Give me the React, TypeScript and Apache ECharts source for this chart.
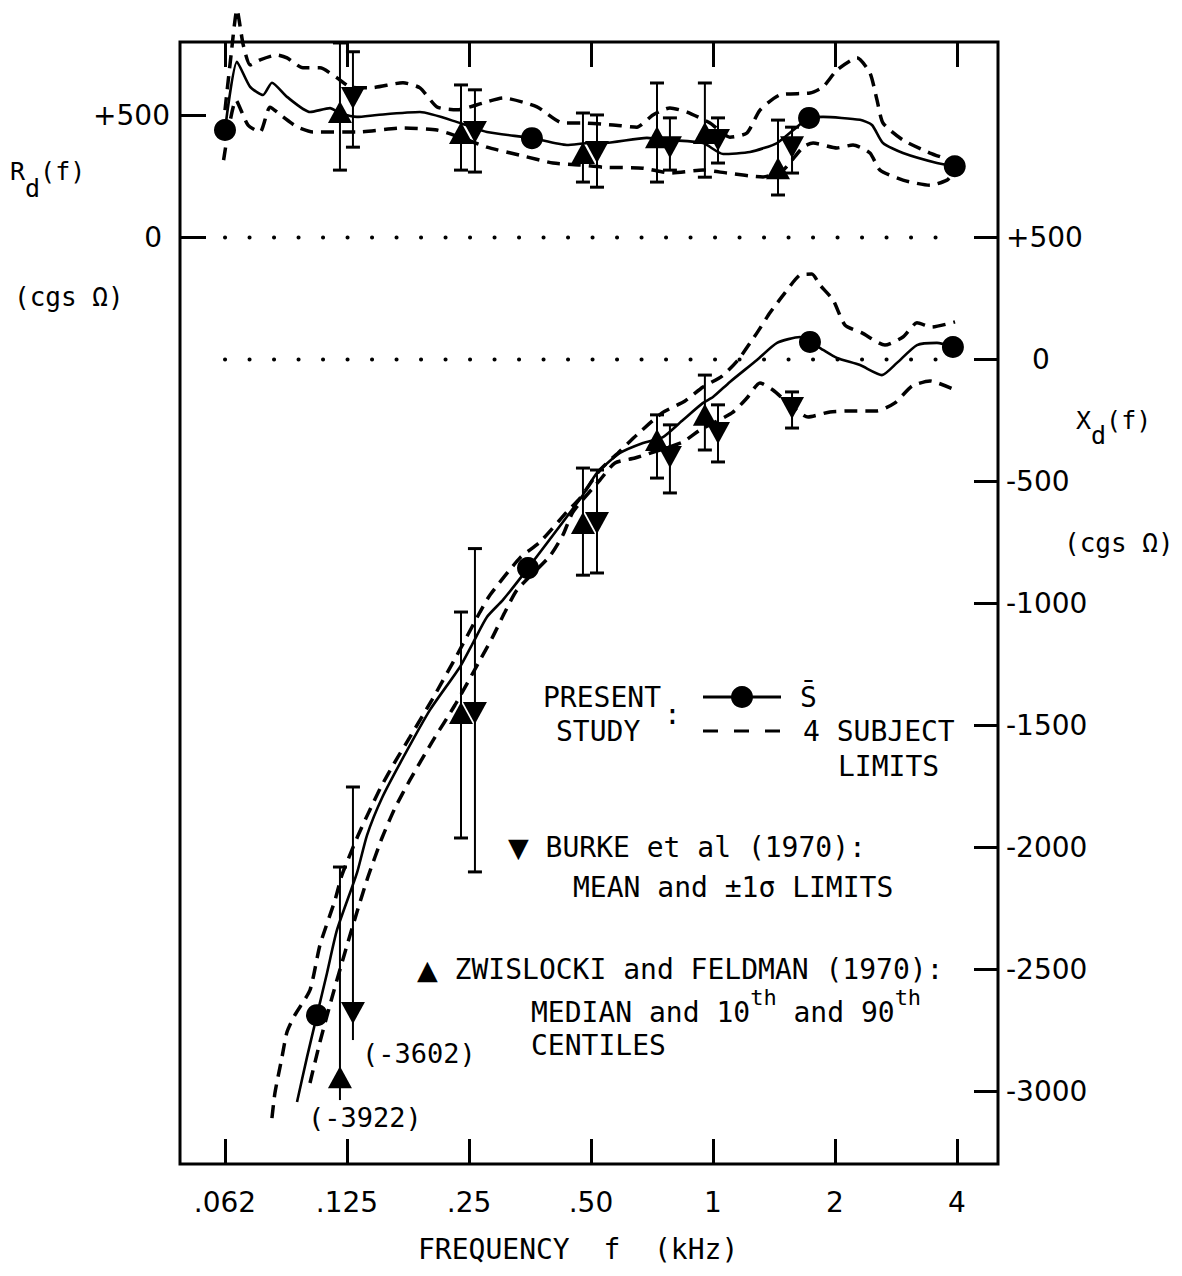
import React, { useEffect, useRef } from "react";
import * as echarts from "echarts";

// ---------- axis ticks ----------
const xTickValues = [0.0625, 0.125, 0.25, 0.5, 1, 2, 4];
const xTickLabels = [".062", ".125", ".25", ".50", "1", "2", "4"];
const xdTickValues = [500, 0, -500, -1000, -1500, -2000, -2500, -3000];
const rdTickValues = [500, 0];

// ---------- present study: Rd(f) (cgs ohm), [f kHz, value] ----------
const rdMean = [
  [0.0625, 440], [0.0669, 720], [0.0721, 617], [0.0776, 584], [0.0816, 634], [0.0889, 576],
  [0.1013, 514], [0.1135, 530], [0.1201, 510], [0.1323, 494], [0.1482, 502], [0.1892, 514],
  [0.2375, 469], [0.2769, 432], [0.3575, 407], [0.436, 379], [0.497, 387], [0.535, 387],
  [0.687, 408], [0.783, 399], [0.945, 387], [1.059, 342], [1.234, 350], [1.439, 387],
  [1.612, 453], [1.726, 490], [1.869, 494], [2.306, 482], [2.468, 461], [2.627, 387],
  [2.943, 346], [3.57, 305], [3.95, 292],
];
const rdUpper = [
  [0.0625, 522], [0.0647, 748], [0.0669, 933], [0.0693, 790], [0.0721, 707], [0.0763, 728],
  [0.084, 748], [0.0889, 736], [0.0973, 695], [0.1072, 695], [0.1181, 654], [0.1272, 617],
  [0.1425, 613], [0.1718, 634], [0.1892, 613], [0.2085, 535], [0.2336, 523], [0.2707, 551],
  [0.3033, 572], [0.3679, 535], [0.4264, 469], [0.4777, 469], [0.5664, 461], [0.649, 452],
  [0.711, 502], [0.783, 531], [0.863, 514], [0.983, 469], [1.101, 411], [1.213, 428],
  [1.306, 522], [1.463, 584], [1.735, 592], [1.869, 617], [2.023, 686], [2.266, 736],
  [2.44, 674], [2.539, 564], [2.627, 469], [2.943, 399], [3.432, 346], [3.845, 317],
];
const rdLower = [
  [0.062, 317], [0.0665, 563], [0.0712, 461], [0.0763, 432], [0.0807, 534], [0.0869, 494],
  [0.0941, 453], [0.103, 432], [0.1323, 432], [0.1718, 449], [0.2085, 440], [0.2375, 411],
  [0.2769, 370], [0.334, 337], [0.403, 305], [0.47, 297], [0.535, 288], [0.672, 284],
  [0.783, 264], [0.945, 276], [1.083, 264], [1.329, 248], [1.489, 276], [1.668, 370],
  [1.766, 387], [2.023, 367], [2.216, 379], [2.44, 346], [2.583, 276], [2.943, 235],
  [3.432, 214], [3.779, 235], [3.909, 264],
];
const rdMeanDots = [[0.0625, 440], [0.3575, 407], [1.726, 490], [3.95, 292]];

// ---------- present study: Xd(f) (cgs ohm) ----------
const xdMean = [
  [0.0941, -3043], [0.0996, -2859], [0.1054, -2687], [0.1116, -2514], [0.1181, -2338],
  [0.1323, -2104], [0.1401, -1949], [0.1525, -1797], [0.1718, -1633],
  [0.2003, -1436], [0.2375, -1260], [0.2558, -1161], [0.2769, -1055], [0.3033, -985],
  [0.3496, -855], [0.4777, -555], [0.5173, -465], [0.5896, -383], [0.672, -342],
  [0.7527, -318], [0.843, -248], [0.945, -178], [1.0, -154], [1.101, -92], [1.284, -2],
  [1.439, 68], [1.639, 92], [1.735, 72], [1.869, 39], [2.023, 6], [2.306, -23],
  [2.612, -64], [2.844, -14], [3.187, 59], [3.57, 68], [3.909, 51],
];
const xdUpper = [
  [0.0816, -3109], [0.083, -3006], [0.0864, -2859], [0.0889, -2756], [0.093, -2686],
  [0.1013, -2584], [0.1072, -2400], [0.1168, -2215], [0.1215, -2112], [0.1323, -1961],
  [0.1416, -1854], [0.1516, -1752], [0.1642, -1649], [0.1788, -1547], [0.2026, -1395],
  [0.2336, -1211], [0.2661, -1035], [0.2817, -965], [0.334, -813], [0.3742, -748],
  [0.436, -625], [0.47, -568], [0.526, -453], [0.583, -383], [0.649, -309], [0.749, -219],
  [0.853, -170], [0.945, -113], [1.053, -68], [1.153, -2], [1.284, 109], [1.382, 191],
  [1.505, 273], [1.639, 346], [1.754, 350], [1.836, 305], [1.978, 244], [2.117, 141],
  [2.331, 109], [2.657, 59], [2.943, 92], [3.187, 150], [3.471, 133], [3.956, 154],
];
const xdLower = [
  [0.1013, -2965], [0.1072, -2797], [0.1154, -2601], [0.1236, -2429], [0.1323, -2264],
  [0.1408, -2121], [0.1525, -1961], [0.1642, -1838], [0.1788, -1723],
  [0.2026, -1568], [0.2309, -1416], [0.2646, -1240], [0.285, -1142], [0.3067, -1035],
  [0.3283, -945], [0.396, -805], [0.4264, -719], [0.4513, -625], [0.526, -494],
  [0.573, -424], [0.642, -404], [0.74, -371], [0.843, -338], [0.929, -289], [1.114, -219],
  [1.213, -158], [1.306, -96], [1.406, -125], [1.549, -186], [1.716, -236], [1.944, -215],
  [2.216, -211], [2.539, -211], [2.812, -178], [3.098, -109], [3.432, -88], [3.956, -125],
];
const xdMeanDots = [[0.1054, -2687], [0.3496, -855], [1.735, 72], [3.909, 51]];

// ---------- Burke et al (1970): [f, mean, -1 sigma, +1 sigma, lower cap (1/0)] ----------
const burkeRd = [
  [0.1293, 572, 370, 761, 1], [0.2586, 432, 268, 605, 1], [0.5173, 350, 206, 502, 1],
  [0.783, 370, 276, 490, 1], [1.029, 399, 305, 490, 1], [1.567, 370, 264, 452, 1],
];
const burkeXd = [
  [0.1293, -2678, -2789, -1752, 0], [0.2586, -1449, -2100, -775, 1], [0.5173, -670, -875, -453, 1],
  [0.783, -400, -547, -268, 1], [1.029, -301, -420, -186, 1], [1.567, -199, -281, -133, 1],
];
// ---------- Zwislocki and Feldman (1970): [f, median, 10th, 90th, lower cap] ----------
const zwRd = [
  [0.1201, 514, 276, 797, 1], [0.2389, 428, 276, 625, 1], [0.4777, 346, 227, 510, 1],
  [0.7275, 411, 227, 633, 1], [0.955, 428, 247, 633, 1], [1.447, 284, 174, 481, 1],
];
const zwXd = [
  [0.1201, -2941, -3035, -2080, 0], [0.2389, -1449, -1961, -1035, 1], [0.4777, -670, -884, -445, 1],
  [0.7275, -330, -486, -227, 1], [0.955, -227, -371, -64, 1],
];
// off-scale points: [f, drawn at, actual value]
const offScale = [[0.1201, -2941, -3922], [0.1293, -2678, -3602]];
const offScaleLabelOffsets = [[25, 40], [66, 41]];

// reference (zero) lines
const zeroLineSpan = [0.0625, 3.956];

const MONO = "'DejaVu Sans Mono', monospace";
const DIGIT = "'DejaVu Sans', sans-serif";

function fmtX(v: number) {
  let best = 0;
  let bd = Infinity;
  xTickValues.forEach((t, i) => {
    const d = Math.abs(Math.log2(v) - Math.log2(t));
    if (d < bd) { bd = d; best = i; }
  });
  return bd < 0.05 ? xTickLabels[best] : "";
}

function curve(data: number[][], yIdx: number, dashed: boolean, extra: any = {}) {
  return {
    type: "line", data, xAxisIndex: 0, yAxisIndex: yIdx, symbol: "none", showSymbol: false,
    smooth: 0.2, silent: true, z: 3,
    lineStyle: dashed
      ? { color: "#000", width: 3.5, type: [13, 8] }
      : { color: "#000", width: 2.6, type: "solid" },
    ...extra,
  };
}

function errBars(data: number[][], yIdx: number) {
  return {
    type: "custom", xAxisIndex: 0, yAxisIndex: yIdx, silent: true, z: 2,
    data: data.map((d) => [d[0], d[2], d[3], d[4]]),
    encode: { x: 0, y: [1, 2] },
    renderItem: (params: any, api: any) => {
      const f = api.value(0);
      const top = api.coord([f, api.value(2)]);
      const bot = api.coord([f, api.value(1)]);
      const w = 7;
      const children: any[] = [
        { type: "line", shape: { x1: top[0], y1: top[1], x2: bot[0], y2: bot[1] }, style: { stroke: "#000", lineWidth: 2 } },
        { type: "line", shape: { x1: top[0] - w, y1: top[1], x2: top[0] + w, y2: top[1] }, style: { stroke: "#000", lineWidth: 3 } },
      ];
      if (api.value(3)) {
        children.push({ type: "line", shape: { x1: bot[0] - w, y1: bot[1], x2: bot[0] + w, y2: bot[1] }, style: { stroke: "#000", lineWidth: 3 } });
      }
      return { type: "group", children };
    },
  };
}

function markers(data: number[][], yIdx: number, kind: "circle" | "up" | "down") {
  return {
    type: "scatter", xAxisIndex: 0, yAxisIndex: yIdx, silent: true, z: 5,
    data: data.map((d) => [d[0], d[1]]),
    symbol: kind === "circle" ? "circle" : "triangle",
    symbolRotate: kind === "down" ? 180 : 0,
    symbolSize: kind === "circle" ? 22 : [24, 22],
    itemStyle: { color: "#000", opacity: 1 },
    emphasis: { disabled: true },
  };
}

function txt(text: string, x: number, y: number, size = 28, extra: any = {}) {
  return {
    type: "text", x, y, silent: true,
    style: { text, fill: "#000", fontFamily: MONO, fontSize: size, align: "left", verticalAlign: "middle", ...extra },
  };
}

function keyed(symbol: string, text: string, x: number, y: number) {
  return {
    type: "text", x, y, silent: true,
    style: {
      text: "{t|" + symbol + "}{a|" + text + "}", align: "left", verticalAlign: "middle",
      rich: {
        t: { fontFamily: DIGIT, fontSize: 27, color: "#000" },
        a: { fontFamily: MONO, fontSize: 28, color: "#000" },
      },
    },
  };
}

export default function App() {
  const ref = useRef<HTMLDivElement>(null);
  useEffect(() => {
    if (!ref.current) return;
    const chart = echarts.init(ref.current, undefined, { renderer: "svg" });
    const xMin = 0.0484, xMax = 5.05;
    const xdMin = -3297, xdMax = 1301;
    const rdMin = xdMin - 500, rdMax = xdMax - 500;
    const tickStyle = { color: "#000", width: 3 };
    const option: any = {
      animation: false,
      backgroundColor: "#fff",
      grid: { left: 180, top: 42, width: 818, height: 1122, show: true, borderColor: "#000", borderWidth: 3, backgroundColor: "transparent" },
      xAxis: [
        {
          type: "log", logBase: 2, min: xMin, max: xMax, position: "bottom",
          axisLine: { show: false, onZero: false },
          axisTick: { show: true, inside: true, length: 25, lineStyle: tickStyle, customValues: xTickValues },
          axisLabel: { customValues: xTickValues, formatter: (v: number) => fmtX(v), color: "#000", fontFamily: DIGIT, fontSize: 28, margin: 24 },
          splitLine: { show: false }, minorTick: { show: false },
        },
        {
          type: "log", logBase: 2, min: xMin, max: xMax, position: "top",
          axisLine: { show: false, onZero: false },
          axisTick: { show: true, inside: true, length: 25, lineStyle: tickStyle, customValues: xTickValues },
          axisLabel: { show: false },
          splitLine: { show: false },
        },
      ],
      yAxis: [
        {
          type: "value", min: rdMin, max: rdMax, position: "left",
          axisLine: { show: false, onZero: false },
          axisTick: { show: true, inside: true, length: 26, lineStyle: tickStyle, customValues: rdTickValues },
          axisLabel: {
            customValues: rdTickValues, color: "#000", fontFamily: DIGIT, fontSize: 28, margin: 10,
            formatter: (v: number) => (v > 0 ? "+" + v : v === 0 ? "{z|0}" : String(v)),
            rich: { z: { fontFamily: DIGIT, fontSize: 28, padding: [0, 8, 0, 0] } },
          },
          splitLine: { show: false },
        },
        {
          type: "value", min: xdMin, max: xdMax, position: "right",
          axisLine: { show: false, onZero: false },
          axisTick: { show: true, inside: true, length: 24, lineStyle: tickStyle, customValues: xdTickValues },
          axisLabel: {
            customValues: xdTickValues, color: "#000", fontFamily: DIGIT, fontSize: 28, margin: 8,
            formatter: (v: number) => (v > 0 ? "+" + v : v === 0 ? "{z|0}" : "-" + Math.abs(v)),
            rich: { z: { fontFamily: DIGIT, fontSize: 28, padding: [0, 0, 0, 26] } },
          },
          splitLine: { show: false },
        },
      ],
      series: [
        // dotted zero lines
        {
          type: "line", xAxisIndex: 0, yAxisIndex: 0, symbol: "none", silent: true, z: 1,
          data: [[zeroLineSpan[0], 0], [zeroLineSpan[1], 0]],
          lineStyle: { color: "#000", width: 4, type: [0.1, 24.4], cap: "round" },
        },
        {
          type: "line", xAxisIndex: 0, yAxisIndex: 1, symbol: "none", silent: true, z: 1,
          data: [[zeroLineSpan[0], 0], [zeroLineSpan[1], 0]],
          lineStyle: { color: "#000", width: 4, type: [0.1, 24.4], cap: "round" },
        },
        curve(rdMean, 0, false),
        curve(rdUpper, 0, true, { clip: false }),
        curve(rdLower, 0, true),
        curve(xdMean, 1, false),
        curve(xdUpper, 1, true),
        curve(xdLower, 1, true),
        errBars(burkeRd, 0),
        errBars(zwRd, 0),
        errBars(burkeXd, 1),
        errBars(zwXd, 1),
        markers(rdMeanDots, 0, "circle"),
        markers(xdMeanDots, 1, "circle"),
        markers(burkeRd, 0, "down"),
        markers(burkeXd, 1, "down"),
        markers(zwRd, 0, "up"),
        markers(zwXd, 1, "up"),
        {
          type: "scatter", xAxisIndex: 0, yAxisIndex: 1, silent: true, z: 6, symbolSize: 1,
          itemStyle: { color: "#fff", opacity: 0 },
          emphasis: { disabled: true },
          data: offScale.map((d, i) => ({
            value: [d[0], d[1]],
            label: {
              show: true, position: "inside", offset: offScaleLabelOffsets[i], opacity: 1,
              formatter: "(" + d[2] + ")", color: "#000", fontFamily: MONO, fontSize: 27,
            },
          })),
        },
      ],
      graphic: [
        // left axis title
        {
          type: "text", x: 10, y: 159, silent: true,
          style: {
            text: "{a|R}{b|d}{a|(f)}", verticalAlign: "top", align: "left",
            rich: {
              a: { fontFamily: MONO, fontSize: 25, verticalAlign: "top", color: "#000" },
              b: { fontFamily: MONO, fontSize: 25, lineHeight: 42, verticalAlign: "bottom", color: "#000" },
            },
          },
        },
        txt("(cgs Ω)", 14, 297, 26),
        // right axis title
        {
          type: "text", x: 1076, y: 408, silent: true,
          style: {
            text: "{a|X}{b|d}{a|(f)}", verticalAlign: "top", align: "left",
            rich: {
              a: { fontFamily: MONO, fontSize: 25, verticalAlign: "top", color: "#000" },
              b: { fontFamily: MONO, fontSize: 25, lineHeight: 40, verticalAlign: "bottom", color: "#000" },
            },
          },
        },
        txt("(cgs Ω)", 1064, 543, 26),
        // legend: present study
        txt("PRESENT", 543, 697),
        txt("STUDY", 556, 731),
        txt(":", 664, 714),
        { type: "line", silent: true, shape: { x1: 703, y1: 697, x2: 781, y2: 697 }, style: { stroke: "#000", lineWidth: 3 } },
        { type: "circle", silent: true, shape: { cx: 742, cy: 697, r: 11 }, style: { fill: "#000" } },
        txt("S\u0304", 800, 697),
        { type: "line", silent: true, shape: { x1: 703, y1: 731, x2: 781, y2: 731 }, style: { stroke: "#000", lineWidth: 3, lineDash: [15, 16] } },
        txt("4 SUBJECT", 803, 731),
        txt("LIMITS", 838, 766),
        // legend: Burke
        keyed("▼", " BURKE et al (1970):", 508, 847),
        txt("MEAN and ±1σ LIMITS", 573, 887),
        // legend: Zwislocki
        keyed("▲", " ZWISLOCKI and FELDMAN (1970):", 417, 969),
        {
          type: "text", x: 531, y: 986, silent: true,
          style: {
            text: "{a|MEDIAN and 10}{s|th}{a| and 90}{s|th}", verticalAlign: "top", align: "left",
            rich: {
              a: { fontFamily: MONO, fontSize: 28, lineHeight: 40, verticalAlign: "bottom", color: "#000" },
              s: { fontFamily: MONO, fontSize: 22, verticalAlign: "top", color: "#000" },
            },
          },
        },
        txt("CENTILES", 531, 1045),
        // x-axis title
        txt("FREQUENCY  f  (kHz)", 418, 1249),
      ],
    };
    chart.setOption(option);
    return () => chart.dispose();
  }, []);
  return <div ref={ref} style={{ position: "absolute", left: 0, top: 0, width: 1182, height: 1276, background: "#fff" }} />;
}
